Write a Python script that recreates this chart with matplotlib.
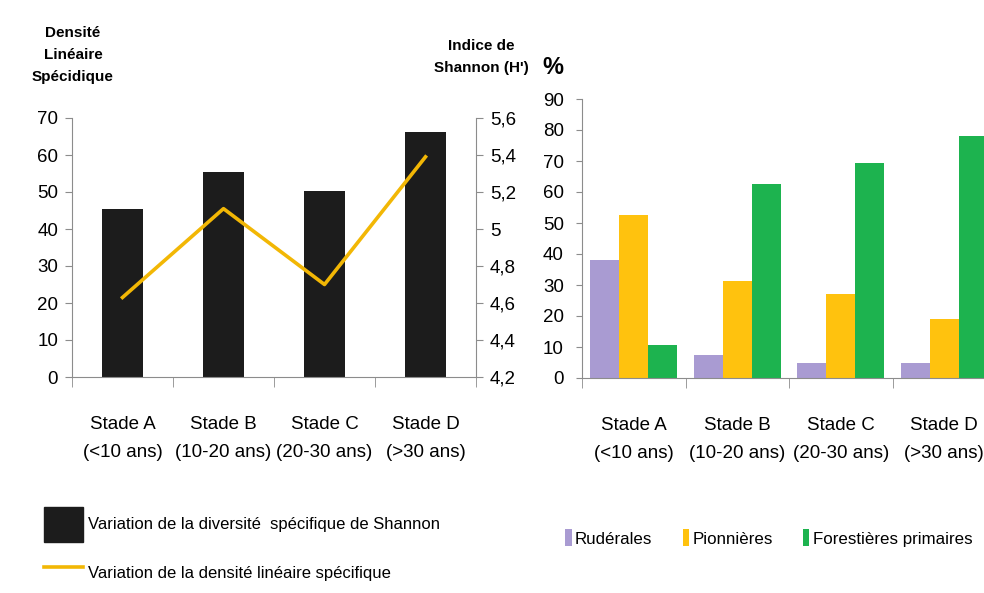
import numpy as np
import matplotlib.pyplot as plt
from matplotlib.patches import Patch
from matplotlib.lines import Line2D

plt.rcParams['font.family'] = ['Liberation Sans Narrow', 'Liberation Sans', 'DejaVu Sans']

stades = ['Stade A\n(<10 ans)', 'Stade B\n(10-20 ans)', 'Stade C\n(20-30 ans)', 'Stade D\n(>30 ans)']

# left chart
shannon_bars = [45.4, 55.4, 50.3, 66.2]
densite_line = [4.63, 5.11, 4.70, 5.39]

# right chart (%)
ruderales = [38.0, 7.4, 4.7, 4.8]
pionnieres = [52.5, 31.2, 27.1, 19.0]
forestieres = [10.7, 62.5, 69.2, 78.2]

grey = '#8c8c8c'
fs = 13.5

fig = plt.figure(figsize=(9.84, 5.93), dpi=100)
fig.patch.set_facecolor('white')

x = np.arange(len(stades))

# ---- left chart ----
ax1 = fig.add_axes([72 / 984, 1 - 377 / 593, 404 / 984, 259 / 593])
bars = ax1.bar(x, shannon_bars, width=0.4, color='#1c1c1c')
ax1.set_xlim(-0.5, 3.5)
ax1.set_ylim(0, 70)
ax1.set_yticks(range(0, 71, 10))
ax2 = ax1.twinx()
line, = ax2.plot(x, densite_line, color='#F2B705', lw=2.6)
ax2.set_ylim(4.2, 5.6)
rticks = np.arange(4.2, 5.61, 0.2)
ax2.set_yticks(rticks, [('%g' % round(v, 1)).replace('.', ',') for v in rticks])

for a in (ax1, ax2):
    a.spines['top'].set_visible(False)
    for s in ('left', 'right', 'bottom'):
        a.spines[s].set_color(grey)
ax1.spines['right'].set_visible(False)
ax2.spines['left'].set_visible(False)
ax2.spines['bottom'].set_visible(False)

ax1.set_xticks(x, stades)
ax1.set_xticks(np.arange(-0.5, 4, 1), minor=True)
ax1.tick_params(axis='x', which='major', length=0, pad=28, labelsize=fs)
ax1.tick_params(axis='x', which='minor', length=7, color=grey)
ax1.tick_params(axis='y', length=5, color=grey, pad=5, labelsize=fs)
ax2.tick_params(axis='y', length=5, color=grey, pad=5, labelsize=fs)
for t in ax1.get_xticklabels():
    t.set_linespacing(1.85)

fig.text(73 / 984, 1 - 55 / 593, 'Densité\nLinéaire\nSpécidique', ha='center', va='center',
         fontsize=11, fontweight='bold', linespacing=1.75)
fig.text(481 / 984, 1 - 57 / 593, "Indice de\nShannon (H')", ha='center', va='center',
         fontsize=11, fontweight='bold', linespacing=1.8)

fig.legend(handles=[Patch(color='#1c1c1c'), Line2D([], [], color='#F2B705', lw=2.6)],
           labels=['Variation de la diversité  spécifique de Shannon',
                   'Variation de la densité linéaire spécifique'],
           loc='upper left', bbox_to_anchor=(36 / 984, 1 - 499 / 593), frameon=False,
           fontsize=12, handlelength=2.3, handleheight=2.8, labelspacing=0.82,
           handletextpad=0.3, borderpad=0)

# ---- right chart ----
ax3 = fig.add_axes([582 / 984, 1 - 378 / 593, 414 / 984, 279 / 593])
w = 0.28
ax3.bar(x - w, ruderales, width=w, color='#A99BD2', label='Rudérales')
ax3.bar(x, pionnieres, width=w, color='#FFC20E', label='Pionnières')
ax3.bar(x + w, forestieres, width=w, color='#1DB34F', label='Forestières primaires')
ax3.set_xlim(-0.5, 3.5)
ax3.set_ylim(0, 90)
ax3.set_yticks(range(0, 91, 10))
ax3.spines['top'].set_visible(False)
ax3.spines['right'].set_visible(False)
ax3.spines['left'].set_color(grey)
ax3.spines['bottom'].set_color(grey)
ax3.set_xticks(x, stades)
ax3.set_xticks(np.arange(-0.5, 4, 1), minor=True)
ax3.tick_params(axis='x', which='major', length=0, pad=28, labelsize=fs)
ax3.tick_params(axis='x', which='minor', length=7, color=grey)
ax3.tick_params(axis='y', length=4, color=grey, pad=9, labelsize=fs)
for t in ax3.get_xticklabels():
    t.set_linespacing(1.85)

fig.text(553 / 984, 1 - 68 / 593, '%', ha='center', va='center', fontsize=17, fontweight='bold')

fig.legend(*ax3.get_legend_handles_labels(), loc='center left',
           bbox_to_anchor=(557 / 984, 1 - 538 / 593), ncol=3, frameon=False,
           fontsize=12.2, handlelength=0.36, handleheight=1.16, handletextpad=0.2,
           columnspacing=1.8, borderpad=0)

fig.savefig('out.png', dpi=100)
